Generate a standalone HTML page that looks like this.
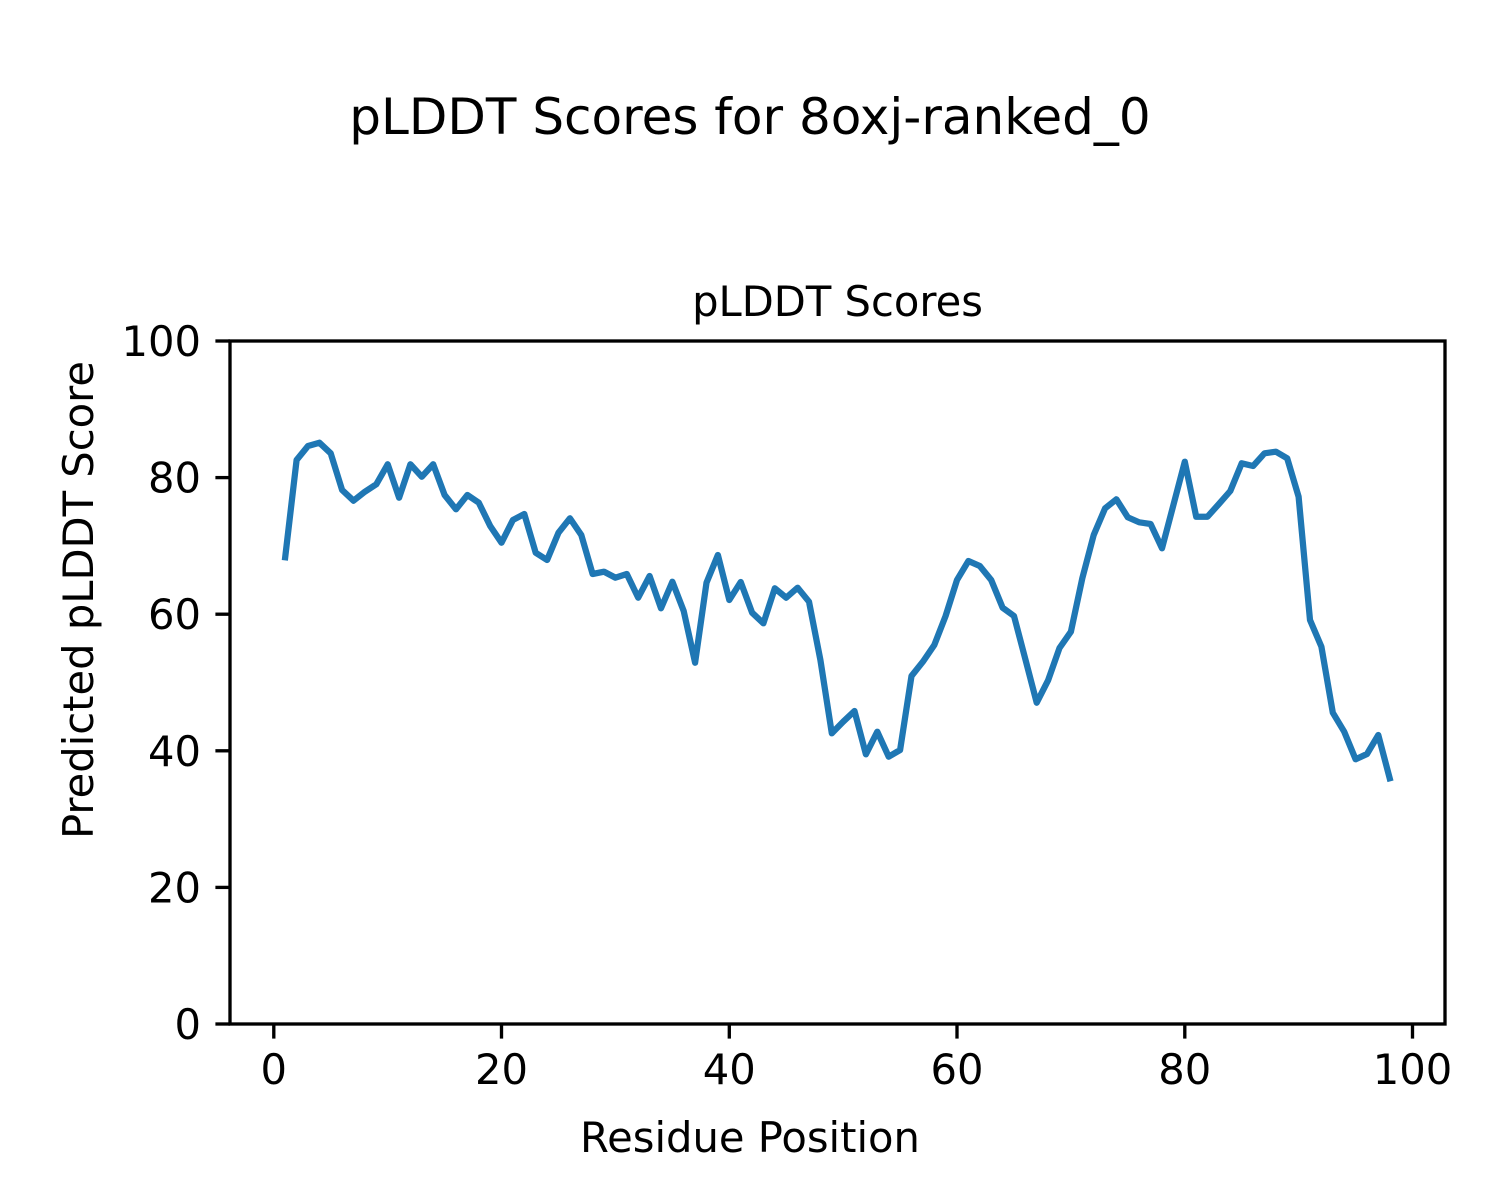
<!DOCTYPE html>
<html>
<head>
<meta charset="utf-8">
<style>
html,body{margin:0;padding:0;background:#fff;}
svg{display:block;}
text{font-family:"DejaVu Sans","Liberation Sans",sans-serif;fill:#000;}
</style>
</head>
<body>
<svg width="1500" height="1200" viewBox="0 0 1500 1200" xmlns="http://www.w3.org/2000/svg">
<rect x="0" y="0" width="1500" height="1200" fill="#fff"/>
<text x="750" y="134" font-size="50" text-anchor="middle">pLDDT Scores for 8oxj-ranked_0</text>
<text x="837.5" y="316" font-size="41.67" text-anchor="middle">pLDDT Scores</text>

<polyline fill="none" stroke="#1f77b4" stroke-width="6.25" stroke-linejoin="round" stroke-linecap="square" points="
285.2,557.3 296.6,460 308.0,446 319.4,442.7 330.7,453.3 342.1,490 353.5,500.7 364.9,491.7 376.3,484.3 387.7,464.3
399.1,497.7 410.4,464.3 421.8,476.7 433.2,464.3 444.6,495 456.0,509.3 467.4,495 478.8,502.7 490.2,526 501.5,542.7
512.9,520 524.3,514 535.7,552.7 547.1,560 558.5,532.7 569.9,518.3 581.3,535 592.6,574 604.0,571.7 615.4,577.7
626.8,574 638.2,597.7 649.6,576 661.0,608.3 672.4,581.7 683.7,611 695.1,662.7 706.5,582.7 717.9,555 729.3,600
740.7,582 752.1,612.7 763.4,623.3 774.8,588.3 786.2,597.7 797.6,587.7 809.0,601.7 820.4,660 831.8,733.3 843.2,721.7
854.5,711 865.9,754.3 877.3,731.7 888.7,756.7 900.1,750 911.5,676 922.9,661.7 934.3,645 945.6,616 957.0,580
968.4,561 979.8,566 991.2,580 1002.6,607.7 1014.0,616 1025.3,659 1036.7,702.7 1048.1,680.3 1059.5,648 1070.9,631.7
1082.3,578.3 1093.7,535 1105.1,508.3 1116.4,499.3 1127.8,517.3 1139.2,522.3 1150.6,524 1162.0,548.3 1173.4,505 1184.8,461.7
1196.2,516.7 1207.5,516.7 1218.9,504 1230.3,491 1241.7,463.3 1253.1,466 1264.5,453.3 1275.9,451.7 1287.2,458.3 1298.6,496.7
1310.0,620 1321.4,646.7 1332.8,712.7 1344.2,731.7 1355.6,759.3 1367.0,754 1378.3,735 1389.7,778.3"/>

<rect x="230" y="341" width="1215" height="683" fill="none" stroke="#000" stroke-width="3.33" stroke-linejoin="miter"/>

<g stroke="#000" stroke-width="3.33">
<line x1="273.8" y1="1024" x2="273.8" y2="1038.6"/>
<line x1="501.5" y1="1024" x2="501.5" y2="1038.6"/>
<line x1="729.3" y1="1024" x2="729.3" y2="1038.6"/>
<line x1="957.0" y1="1024" x2="957.0" y2="1038.6"/>
<line x1="1184.8" y1="1024" x2="1184.8" y2="1038.6"/>
<line x1="1412.5" y1="1024" x2="1412.5" y2="1038.6"/>
<line x1="215.4" y1="1024" x2="230" y2="1024"/>
<line x1="215.4" y1="887.4" x2="230" y2="887.4"/>
<line x1="215.4" y1="750.8" x2="230" y2="750.8"/>
<line x1="215.4" y1="614.2" x2="230" y2="614.2"/>
<line x1="215.4" y1="477.6" x2="230" y2="477.6"/>
<line x1="215.4" y1="341" x2="230" y2="341"/>
</g>

<g font-size="41.67" text-anchor="middle">
<text x="273.8" y="1084">0</text>
<text x="501.5" y="1084">20</text>
<text x="729.3" y="1084">40</text>
<text x="957.0" y="1084">60</text>
<text x="1184.8" y="1084">80</text>
<text x="1412.5" y="1084">100</text>
</g>
<g font-size="41.67" text-anchor="end">
<text x="201" y="1039">0</text>
<text x="201" y="902.4">20</text>
<text x="201" y="765.8">40</text>
<text x="201" y="629.2">60</text>
<text x="201" y="492.6">80</text>
<text x="201" y="356">100</text>
</g>

<text x="750" y="1152" font-size="41.67" text-anchor="middle">Residue Position</text>
<text x="0" y="0" font-size="41.67" text-anchor="middle" transform="translate(93,600) rotate(-90)">Predicted pLDDT Score</text>
</svg>
</body>
</html>
